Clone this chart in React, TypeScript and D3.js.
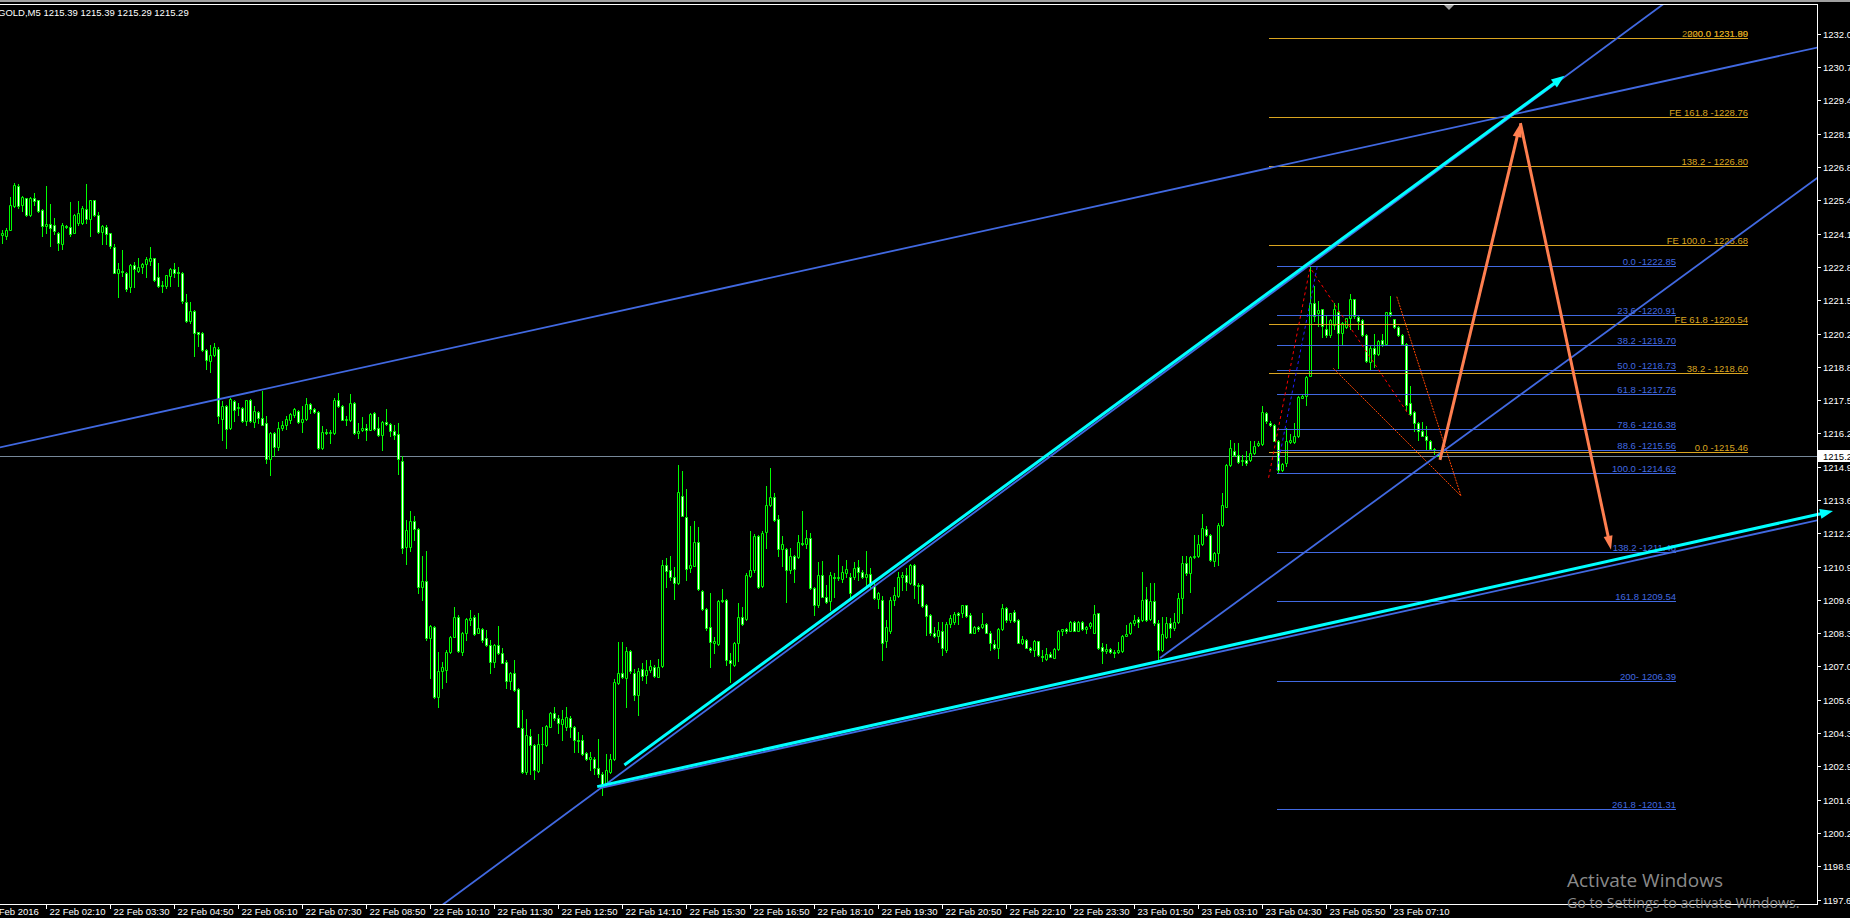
import React from 'react';
import * as d3 from 'd3';

// ---------- OHLC data (GOLD, M5) ----------
const barOpen = [
1224.07,1224.04,1224.28,1225.24,1226.01,1225.28,1225.53,1224.87,1225.53,1225.45,
1225.06,1224.44,1224.53,1224.49,1224.17,1223.71,1224.45,1224.41,1224.16,1224.57,
1224.56,1225.13,1224.73,1225.45,1224.89,1224.20,1224.41,1224.14,1223.62,1222.58,
1222.66,1222.58,1222.01,1222.87,1222.65,1222.82,1222.93,1223.06,1223.15,1222.41,
1222.05,1222.05,1222.45,1222.72,1222.61,1222.58,1221.43,1220.66,1221.07,1220.21,
1220.17,1219.52,1219.07,1219.30,1219.56,1216.78,1217.31,1216.41,1217.49,1217.20,
1217.23,1216.68,1217.54,1216.64,1217.07,1216.83,1216.62,1215.19,1216.22,1215.66,
1216.41,1216.52,1216.74,1216.94,1217.11,1216.64,1216.78,1217.37,1217.17,1217.05,
1215.62,1216.27,1216.22,1216.22,1217.54,1217.31,1216.72,1216.72,1217.41,1216.21,
1216.33,1216.42,1216.35,1217.02,1216.43,1216.14,1216.67,1216.59,1216.31,1216.19,
1215.12,1211.69,1211.71,1212.73,1212.40,1210.10,1210.34,1208.09,1208.53,1205.75,
1206.77,1206.81,1207.52,1208.13,1208.90,1207.54,1208.27,1208.78,1208.90,1208.29,
1208.43,1208.07,1207.80,1207.14,1207.80,1207.47,1207.13,1206.38,1206.68,1206.04,
1204.49,1202.76,1204.18,1203.82,1202.80,1203.89,1203.82,1204.55,1205.11,1204.89,
1204.65,1204.55,1204.89,1204.55,1204.05,1204.02,1203.52,1203.26,1203.29,1202.90,
1202.70,1202.30,1202.76,1203.27,1206.28,1206.71,1206.48,1207.56,1206.71,1205.81,
1206.83,1206.60,1206.81,1206.94,1206.54,1206.97,1210.96,1210.79,1210.52,1210.26,
1213.73,1212.88,1210.85,1210.94,1211.89,1209.95,1209.22,1208.50,1207.87,1207.84,
1209.59,1209.59,1207.21,1207.01,1207.87,1208.90,1208.82,1210.55,1210.76,1212.11,
1210.15,1212.27,1213.35,1213.68,1212.81,1211.61,1211.61,1210.79,1211.32,1211.29,
1211.87,1211.82,1212.07,1210.06,1209.39,1210.59,1209.72,1209.53,1210.50,1210.46,
1210.41,1210.65,1210.52,1210.52,1210.89,1210.69,1210.49,1210.63,1210.16,1209.62,
1209.59,1207.97,1208.37,1209.59,1209.76,1210.52,1210.59,1210.25,1210.98,1210.19,
1210.19,1209.39,1209.00,1208.27,1208.16,1208.37,1207.60,1208.64,1208.73,1209.06,
1209.06,1209.38,1209.00,1208.29,1208.53,1208.50,1208.64,1208.29,1207.84,1207.67,
1208.44,1209.26,1208.80,1209.13,1208.80,1207.90,1208.00,1207.70,1207.60,1207.96,
1207.36,1207.23,1207.43,1207.30,1207.64,1208.37,1208.43,1208.37,1208.73,1208.37,
1208.73,1208.44,1208.56,1208.29,1209.06,1207.74,1207.56,1207.63,1207.51,1207.54,
1207.56,1208.17,1208.27,1208.66,1208.82,1208.80,1209.62,1208.82,1209.55,1208.66,
1207.60,1208.11,1208.69,1208.47,1208.73,1209.66,1211.05,1210.68,1211.29,1211.32,
1211.82,1212.40,1212.18,1211.12,1211.45,1212.58,1213.30,1214.96,1215.52,1215.36,
1215.09,1215.16,1215.13,1215.43,1215.76,1215.78,1217.02,1216.62,1216.55,1215.92,
1214.76,1215.03,1215.85,1215.85,1216.09,1217.61,1217.68,1218.50,1221.39,1220.99,
1221.13,1220.33,1220.09,1220.49,1221.04,1220.20,1220.44,1220.80,1221.53,1220.84,
1220.69,1220.11,1219.03,1219.58,1219.36,1219.93,1219.74,1221.03,1220.73,1220.44,
1220.12,1219.76,1217.41,1217.04,1216.62,1216.29,1216.11,1215.89,1215.60,1215.39];

const barHigh = [
1224.27,1224.35,1225.57,1226.14,1226.10,1225.64,1225.55,1225.57,1225.74,1225.47,
1225.10,1226.01,1225.30,1224.77,1224.20,1224.57,1224.48,1225.37,1224.90,1225.42,
1225.24,1226.10,1225.47,1225.47,1225.01,1224.48,1224.47,1224.17,1223.74,1222.98,
1223.47,1222.62,1222.91,1223.02,1223.18,1222.98,1223.21,1223.59,1223.17,1222.96,
1222.25,1222.50,1222.78,1222.98,1222.80,1222.61,1221.72,1221.42,1221.10,1220.24,
1220.22,1219.56,1219.73,1219.80,1219.63,1217.48,1217.35,1217.60,1217.52,1217.41,
1217.25,1217.54,1217.57,1217.31,1217.09,1217.88,1216.88,1216.25,1216.25,1216.67,
1216.68,1216.88,1217.02,1217.23,1217.15,1217.28,1217.61,1217.41,1217.21,1217.08,
1216.49,1216.38,1216.35,1217.60,1217.81,1217.33,1216.88,1217.78,1217.44,1216.62,
1216.86,1216.59,1217.02,1217.04,1216.84,1216.70,1217.17,1216.62,1216.52,1216.62,
1215.32,1212.77,1213.13,1212.91,1212.44,1211.32,1211.52,1208.60,1208.56,1207.54,
1207.14,1207.60,1208.16,1209.33,1208.99,1208.33,1208.86,1209.19,1208.99,1209.06,
1208.47,1208.40,1208.00,1207.83,1208.56,1207.67,1207.21,1206.74,1207.21,1206.08,
1205.24,1204.85,1204.45,1203.86,1204.26,1204.55,1204.61,1205.15,1205.35,1205.02,
1205.22,1205.35,1204.98,1204.58,1204.34,1204.22,1203.56,1203.56,1203.36,1204.09,
1202.76,1203.49,1203.49,1206.44,1207.91,1207.94,1207.74,1207.60,1206.83,1206.90,
1207.07,1207.21,1207.21,1207.01,1207.25,1211.18,1211.25,1211.34,1210.89,1214.96,
1214.70,1214.00,1212.51,1212.71,1212.48,1209.99,1209.26,1209.86,1208.13,1209.59,
1210.03,1209.62,1207.47,1207.94,1209.46,1209.33,1210.65,1212.31,1212.21,1212.18,
1212.31,1214.10,1214.83,1213.84,1212.97,1212.11,1211.65,1211.65,1211.38,1212.18,
1213.13,1212.38,1212.24,1210.12,1211.08,1211.12,1210.19,1210.72,1210.65,1211.38,
1210.92,1211.18,1210.65,1211.08,1211.18,1210.79,1211.52,1210.85,1210.25,1209.92,
1209.73,1208.80,1209.72,1210.12,1210.72,1210.72,1210.85,1211.01,1211.02,1210.26,
1210.23,1209.43,1209.02,1208.53,1208.73,1208.73,1208.73,1208.98,1209.13,1209.13,
1209.41,1209.41,1209.06,1208.57,1208.57,1209.09,1208.66,1208.37,1208.00,1208.48,
1209.42,1209.33,1209.09,1209.21,1208.82,1208.16,1208.04,1207.74,1208.00,1207.97,
1207.60,1207.67,1207.54,1207.67,1208.40,1208.45,1208.47,1208.76,1208.76,1208.76,
1208.77,1208.56,1208.72,1209.38,1209.09,1207.87,1207.84,1207.67,1207.60,1207.93,
1208.20,1208.60,1208.73,1209.00,1208.93,1210.69,1210.12,1210.28,1210.28,1208.80,
1208.93,1208.90,1208.86,1209.06,1209.86,1211.32,1211.34,1211.32,1212.18,1212.18,
1213.00,1212.51,1212.22,1211.51,1212.64,1213.83,1215.00,1215.96,1215.82,1215.82,
1215.36,1215.49,1215.89,1215.89,1215.89,1217.28,1217.04,1216.69,1216.58,1215.96,
1215.03,1216.42,1216.16,1216.62,1217.68,1217.71,1218.50,1222.85,1222.06,1221.46,
1221.15,1220.89,1220.73,1221.39,1221.39,1220.62,1220.80,1221.72,1221.55,1220.89,
1220.73,1220.13,1219.67,1220.13,1219.93,1220.13,1221.03,1221.66,1220.76,1220.46,
1220.15,1219.80,1218.08,1217.08,1216.65,1216.65,1216.49,1215.93,1215.62,1215.39];

const barLow = [
1223.78,1223.91,1224.28,1225.20,1225.17,1225.04,1224.84,1224.84,1225.28,1225.01,
1224.04,1224.15,1223.64,1224.11,1223.49,1223.51,1224.37,1224.04,1224.15,1224.48,
1224.53,1224.57,1224.04,1224.84,1224.17,1223.71,1223.71,1223.58,1222.56,1221.61,
1222.45,1221.85,1221.81,1222.00,1222.62,1222.58,1222.40,1222.87,1222.25,1222.03,
1221.81,1221.99,1222.05,1222.43,1222.05,1221.39,1220.64,1220.59,1219.27,1219.67,
1219.47,1218.74,1218.63,1219.27,1216.62,1215.95,1215.62,1216.38,1216.68,1216.95,
1216.66,1216.55,1216.66,1216.46,1216.62,1216.54,1215.03,1214.55,1215.29,1215.53,
1216.33,1216.38,1216.62,1216.84,1216.62,1216.25,1216.75,1217.02,1217.02,1215.60,
1215.60,1216.19,1215.82,1216.19,1217.25,1216.72,1216.55,1216.70,1216.18,1216.02,
1216.29,1215.95,1216.33,1216.35,1216.10,1215.53,1216.54,1216.09,1215.98,1214.59,
1211.45,1211.03,1211.52,1211.98,1209.86,1209.59,1208.00,1206.48,1205.68,1205.35,
1206.08,1206.34,1207.47,1208.11,1207.54,1207.41,1208.00,1208.60,1208.20,1208.27,
1207.94,1207.76,1206.68,1206.94,1207.45,1207.07,1206.08,1206.04,1205.99,1204.53,
1202.72,1202.70,1202.70,1202.50,1202.76,1203.10,1203.78,1204.53,1204.82,1204.29,
1204.02,1204.42,1204.16,1203.56,1203.56,1203.43,1203.23,1202.83,1202.70,1202.56,
1201.83,1202.27,1202.72,1203.23,1206.25,1206.50,1205.35,1206.68,1205.62,1205.02,
1206.41,1206.30,1206.74,1206.54,1206.52,1206.91,1210.12,1210.39,1209.62,1210.23,
1212.91,1210.39,1210.72,1210.92,1209.99,1209.19,1208.40,1206.91,1207.47,1207.81,
1209.49,1207.01,1206.32,1206.97,1207.18,1208.60,1208.80,1210.52,1210.72,1210.08,
1210.12,1211.65,1213.31,1212.73,1211.32,1210.92,1209.49,1210.68,1210.32,1211.25,
1211.78,1211.65,1210.02,1208.99,1209.33,1209.70,1209.46,1209.19,1209.72,1210.39,
1210.32,1210.52,1209.66,1210.41,1210.39,1210.46,1210.12,1210.06,1209.62,1209.26,
1207.21,1207.74,1208.27,1209.39,1209.72,1209.99,1209.99,1210.23,1209.66,1209.46,
1209.33,1208.20,1208.20,1208.11,1207.93,1207.40,1207.54,1208.53,1208.64,1208.64,
1208.93,1208.93,1208.27,1208.27,1208.37,1208.46,1208.27,1207.60,1207.63,1207.30,
1208.40,1208.73,1208.73,1208.73,1207.87,1207.84,1207.67,1207.54,1207.38,1207.38,
1207.18,1207.21,1207.31,1207.27,1207.60,1208.20,1208.27,1208.35,1208.35,1208.35,
1208.40,1208.27,1208.46,1208.27,1207.66,1207.10,1207.47,1207.47,1207.34,1207.50,
1207.54,1208.16,1208.24,1208.60,1208.53,1208.77,1208.77,1208.80,1208.60,1207.23,
1207.58,1208.07,1208.13,1208.40,1208.69,1209.06,1210.59,1209.92,1211.25,1211.29,
1211.78,1212.11,1211.12,1210.92,1210.98,1212.54,1213.28,1214.90,1215.29,1215.03,
1214.96,1214.96,1215.09,1215.40,1215.69,1215.76,1216.62,1216.49,1215.89,1214.66,
1214.70,1214.92,1215.82,1215.82,1216.06,1217.59,1217.35,1218.48,1220.66,1220.46,
1220.04,1220.04,1220.04,1220.33,1218.81,1219.74,1220.40,1220.33,1220.80,1220.33,
1220.07,1219.03,1218.71,1218.85,1219.30,1219.67,1219.70,1220.86,1220.40,1220.07,
1219.70,1217.15,1216.95,1216.29,1215.96,1216.09,1215.60,1215.56,1215.40,1215.29];

const barClose = [
1224.15,1224.27,1225.26,1226.06,1225.24,1225.57,1224.87,1225.53,1225.44,1225.04,
1224.44,1224.53,1224.35,1224.24,1223.75,1224.49,1224.40,1224.12,1224.89,1224.94,
1225.17,1224.73,1225.45,1224.88,1224.20,1224.45,1224.12,1223.64,1222.58,1222.74,
1222.61,1221.95,1222.87,1222.74,1222.82,1222.94,1223.11,1223.15,1222.29,1222.05,
1222.09,1222.48,1222.72,1222.58,1222.57,1221.46,1220.66,1221.06,1220.20,1220.16,
1219.51,1219.11,1219.31,1219.64,1216.88,1217.31,1216.38,1217.57,1217.15,1217.27,
1216.68,1217.52,1216.68,1217.09,1216.82,1216.55,1215.19,1216.22,1215.66,1216.43,
1216.54,1216.76,1216.98,1217.17,1216.64,1216.78,1217.37,1217.17,1217.04,1215.62,
1216.25,1216.22,1216.27,1217.54,1217.28,1216.75,1216.78,1217.41,1216.21,1216.31,
1216.42,1216.35,1216.99,1216.38,1216.14,1216.67,1216.58,1216.31,1216.14,1215.19,
1211.65,1212.38,1212.73,1212.40,1210.12,1210.35,1208.07,1208.56,1205.75,1206.77,
1206.91,1207.52,1208.12,1208.90,1207.56,1208.29,1208.82,1208.89,1208.24,1208.47,
1208.00,1207.79,1207.14,1207.80,1207.47,1207.10,1206.38,1206.68,1206.01,1204.55,
1202.76,1204.22,1203.82,1202.83,1203.89,1203.86,1204.58,1205.11,1204.89,1204.69,
1204.85,1204.93,1204.55,1204.02,1203.98,1203.49,1203.26,1203.36,1202.90,1202.70,
1202.23,1202.83,1203.29,1206.34,1206.71,1206.52,1207.56,1206.77,1205.81,1206.77,
1206.57,1206.81,1206.97,1206.57,1206.94,1210.96,1210.75,1210.49,1210.26,1213.87,
1212.93,1210.81,1210.98,1211.89,1210.02,1209.22,1208.47,1207.94,1207.96,1209.55,
1209.53,1207.21,1207.10,1207.87,1208.90,1208.64,1210.59,1210.76,1212.11,1210.11,
1212.24,1213.36,1213.68,1212.77,1211.61,1211.81,1210.79,1211.32,1210.81,1211.89,
1211.82,1212.07,1210.06,1209.39,1210.59,1209.72,1209.49,1210.59,1210.46,1210.52,
1210.72,1210.81,1209.86,1210.85,1210.69,1210.49,1210.63,1210.19,1209.66,1209.86,
1207.87,1208.53,1209.59,1209.79,1210.52,1210.59,1210.32,1210.98,1210.19,1210.16,
1209.37,1208.97,1208.27,1208.16,1208.40,1207.70,1208.64,1208.86,1209.02,1209.00,
1209.38,1208.97,1208.29,1208.50,1208.44,1208.64,1208.29,1207.90,1207.67,1208.44,
1209.26,1208.80,1209.06,1208.77,1207.90,1208.03,1207.70,1207.60,1207.96,1207.40,
1207.31,1207.43,1207.34,1207.63,1208.37,1208.43,1208.37,1208.73,1208.37,1208.73,
1208.44,1208.53,1208.66,1209.02,1207.70,1207.56,1207.63,1207.51,1207.47,1207.60,
1208.17,1208.24,1208.66,1208.80,1208.73,1209.59,1208.80,1209.55,1208.66,1207.60,
1208.24,1208.69,1208.47,1208.73,1209.66,1211.05,1210.65,1211.28,1211.34,1211.82,
1212.44,1212.18,1211.16,1211.47,1212.58,1213.37,1214.96,1215.62,1215.33,1215.05,
1215.13,1215.03,1215.43,1215.72,1215.82,1217.06,1216.69,1216.53,1215.89,1214.76,
1214.99,1215.92,1215.96,1216.11,1217.64,1217.68,1218.43,1221.39,1220.86,1221.09,
1220.46,1220.09,1220.69,1221.13,1220.20,1220.60,1220.77,1221.53,1220.86,1220.66,
1220.11,1219.07,1219.58,1219.36,1219.89,1219.74,1221.02,1220.93,1220.44,1220.09,
1219.74,1217.35,1216.99,1216.62,1216.29,1216.11,1215.96,1215.60,1215.53,1215.29];

// ---------- axes ----------
const timeLabels = ['22 Feb 2016','22 Feb 02:10','22 Feb 03:30','22 Feb 04:50','22 Feb 06:10','22 Feb 07:30',
  '22 Feb 08:50','22 Feb 10:10','22 Feb 11:30','22 Feb 12:50','22 Feb 14:10','22 Feb 15:30','22 Feb 16:50',
  '22 Feb 18:10','22 Feb 19:30','22 Feb 20:50','22 Feb 22:10','22 Feb 23:30','23 Feb 01:50','23 Feb 03:10',
  '23 Feb 04:30','23 Feb 05:50','23 Feb 07:10'];
const timeLabelBars = [-5,11,27,43,59,75,91,107,123,139,155,171,187,203,219,235,251,267,283,299,315,331,347];

const priceTickValues = [1232.06,1230.74,1229.42,1228.09,1226.77,1225.45,1224.13,1222.81,1221.49,1220.16,
  1218.84,1217.52,1216.20,1214.88,1213.55,1212.23,1210.91,1209.59,1208.27,1206.95,1205.62,1204.30,1202.98,
  1201.66,1200.33,1199.01,1197.69];
const priceTickLabels = ['1232.0','1230.7','1229.4','1228.1','1226.8','1225.4','1224.1','1222.8','1221.5','1220.2',
  '1218.8','1217.5','1216.2','1214.9','1213.6','1212.2','1210.9','1209.6','1208.3','1207.0','1205.6','1204.3',
  '1202.9','1201.6','1200.2','1198.9','1197.6'];

const headerText = 'GOLD,M5  1215.39 1215.39 1215.29 1215.29';
const lastPrice = 1215.29;
const lastPriceLabel = '1215.2';

// ---------- Fibonacci retracement (blue) ----------
const fibRetBars = [318.75, 418.5];
const fibRetPrices = [1222.85,1220.91,1219.70,1218.73,1217.76,1216.38,1215.56,1214.62,1211.48,1209.54,1206.39,1201.31];
const fibRetLabels = ['0.0 -1222.85','23.6 -1220.91','38.2 -1219.70','50.0 -1218.73','61.8 -1217.76','78.6 -1216.38',
  '88.6 -1215.56','100.0 -1214.62','138.2  -1211.48','161.8 1209.54','200- 1206.39','261.8 -1201.31'];

// ---------- Fibonacci expansion (goldenrod) ----------
const fibExpBars = [316.75, 436.5];
const fibExpPrices = [1215.46,1218.60,1220.54,1223.68,1226.80,1228.76,1231.89];
const fibExpLabels = ['0.0 -1215.46','38.2 - 1218.60','FE 61.8 -1220.54','FE 100.0 - 1223.68','138.2 - 1226.80',
  'FE 161.8 -1228.76','200.0 1231.89'];
const fibExpOverlapLabel = '2020.0 1231.90';

// ---------- trend lines: [bar, price] pairs ----------
const upperChannel = [[-0.5, 1215.65], [453.75, 1231.52]];
const lowerChannel = [[149.5, 1202.12], [453.75, 1212.75]];
const steepLineA = [[149.5, 1202.10], [410, 1232.62]];
const steepLineB = [[289.5, 1207.29], [453.75, 1226.34]];
const cyanUpper = [[155.6, 1203.04], [390.6, 1230.40]];
const cyanLower = [[148.8, 1202.18], [457.75, 1213.12]];
const orangeUp = [[359.5, 1215.15], [379.6, 1228.52]];
const orangeDown = [[379.6, 1228.52], [402.25, 1211.58]];
const redDash1 = [[316.65, 1214.44], [327, 1222.77]];
const redDash2 = [[327.4, 1222.69], [351.75, 1216.93]];
const blueDash = [[318.7, 1214.75], [328.8, 1222.82]];
const wedge1 = [[332.8, 1218.79], [364.75, 1213.72]];
const wedge2 = [[348.7, 1221.63], [364.75, 1213.72]];

const FONT = "'Liberation Sans', Arial, sans-serif";
const FS = 9.5;

export default function App() {
  const W = 1850, H = 918;
  const L = 0, R = 1817, T = 4, B = 904;
  const x = d3.scaleLinear().domain([0, 359]).range([2, 1438]);
  const y = d3.scaleLinear().domain([1197.52, 1233.25]).range([B, T]);

  const P = (pt: number[]): [number, number] => [x(pt[0]), y(pt[1])];
  const line = d3.line();
  const seg = (pts: number[][]) => line([P(pts[0]), P(pts[1])]) as string;
  const extend = (pts: number[][], left: boolean, right: boolean) => {
    const [x1, y1] = P(pts[0]);
    const [x2, y2] = P(pts[1]);
    const m = (y2 - y1) / (x2 - x1);
    const xa = left ? -10 : x1;
    const xb = right ? R + 10 : x2;
    return line([[xa, y1 + m * (xa - x1)], [xb, y1 + m * (xb - x1)]]) as string;
  };
  const head = (pts: number[][], len: number, half: number) => {
    const [x1, y1] = P(pts[0]);
    const [x2, y2] = P(pts[1]);
    const d = Math.hypot(x2 - x1, y2 - y1);
    const ux = (x2 - x1) / d, uy = (y2 - y1) / d;
    const bx = x2 - ux * len, by = y2 - uy * len;
    return `${x2},${y2} ${bx - uy * half},${by + ux * half} ${bx + uy * half},${by - ux * half}`;
  };
  const shaft = (pts: number[][], len: number) => {
    const [x1, y1] = P(pts[0]);
    const [x2, y2] = P(pts[1]);
    const d = Math.hypot(x2 - x1, y2 - y1);
    const ux = (x2 - x1) / d, uy = (y2 - y1) / d;
    return line([[x1, y1], [x2 - ux * len * 0.7, y2 - uy * len * 0.7]]) as string;
  };

  const candles = barOpen.map((o, i) => {
    const c = barClose[i];
    const hi = Math.max(barHigh[i], o, c);
    const lo = Math.min(barLow[i], o, c);
    const cx = Math.round(x(i));
    const top = Math.round(y(Math.max(o, c))) + 0.5;
    const bot = Math.round(y(Math.min(o, c))) + 0.5;
    const bear = c < o;
    return (
      <g key={i}>
        <line x1={cx + 0.5} x2={cx + 0.5} y1={Math.round(y(hi))} y2={Math.round(y(lo)) + 1} stroke="#00FF00" strokeWidth={1} />
        <path d={`M${cx - 0.5},${top}H${cx + 1.5}V${bot}H${cx - 0.5}Z`} fill={bear ? '#FFFFFF' : '#000000'} stroke="#00FF00" strokeWidth={1} />
      </g>
    );
  });

  const priceY = Math.round(y(lastPrice)) + 0.5;
  const blue = '#4169E1';
  const gold = '#DAA520';

  return (
    <svg width={W} height={H} style={{ position: 'absolute', left: 0, top: 0, background: '#000', display: 'block' }}
      fontFamily={FONT} fontSize={FS}>
      <defs>
        <clipPath id="plot"><rect x={L} y={T} width={R - L} height={B - T} /></clipPath>
      </defs>
      <rect x={0} y={0} width={W} height={H} fill="#000" />
      <rect x={0} y={0} width={W} height={2} fill="#a0a0a0" />

      <g clipPath="url(#plot)">
        <line x1={L} x2={R} y1={priceY} y2={priceY} stroke="#778899" strokeWidth={1} />
        {candles}

        {fibRetPrices.map((p, k) => {
          const yy = Math.round(y(p)) + 0.5;
          return (
            <g key={'fr' + k}>
              <line x1={x(fibRetBars[0])} x2={x(fibRetBars[1])} y1={yy} y2={yy} stroke={blue} strokeWidth={1} />
              <text x={x(fibRetBars[1])} y={yy - 2} textAnchor="end" fill={blue}>{fibRetLabels[k]}</text>
            </g>
          );
        })}
        {fibExpPrices.map((p, k) => {
          const yy = Math.round(y(p)) + 0.5;
          return (
            <g key={'fe' + k}>
              <line x1={x(fibExpBars[0])} x2={x(fibExpBars[1])} y1={yy} y2={yy} stroke={gold} strokeWidth={1} />
              <text x={x(fibExpBars[1])} y={yy - 2} textAnchor="end" fill={gold}>{fibExpLabels[k]}</text>
            </g>
          );
        })}
        <text x={x(fibExpBars[1])} y={Math.round(y(fibExpPrices[6])) - 1.5} textAnchor="end" fill={gold} opacity={0.85}>{fibExpOverlapLabel}</text>

        <path d={seg(redDash1)} stroke="#FF0000" strokeWidth={1} strokeDasharray="3,3" fill="none" />
        <path d={seg(redDash2)} stroke="#FF0000" strokeWidth={1} strokeDasharray="3,3" fill="none" />
        <path d={seg(blueDash)} stroke="#1E1EFF" strokeWidth={1} strokeDasharray="3,3" fill="none" />
        <path d={seg(wedge1)} stroke="#FF4500" strokeWidth={1} strokeDasharray="2,1" fill="none" />
        <path d={seg(wedge2)} stroke="#FF4500" strokeWidth={1} strokeDasharray="2,1" fill="none" />

        <path d={extend(upperChannel, true, true)} stroke={blue} strokeWidth={1.8} fill="none" />
        <path d={extend(lowerChannel, false, true)} stroke={blue} strokeWidth={1.8} fill="none" />
        <path d={extend(steepLineA, true, true)} stroke={blue} strokeWidth={1.8} fill="none" />
        <path d={extend(steepLineB, false, true)} stroke={blue} strokeWidth={1.8} fill="none" />

        <path d={shaft(cyanUpper, 13)} stroke="#00FFFF" strokeWidth={3} fill="none" />
        <polygon points={head(cyanUpper, 13, 5)} fill="#00FFFF" />

        <path d={shaft(orangeUp, 14)} stroke="#FF7F50" strokeWidth={3} fill="none" />
        <polygon points={head(orangeUp, 14, 4.5)} fill="#FF7F50" />
        <path d={shaft(orangeDown, 14)} stroke="#FF7F50" strokeWidth={3} fill="none" />
        <polygon points={head(orangeDown, 14, 4.5)} fill="#FF7F50" />
      </g>

      <path d={shaft(cyanLower, 13)} stroke="#00FFFF" strokeWidth={3} fill="none" />
      <polygon points={head(cyanLower, 13, 5)} fill="#00FFFF" />

      <line x1={L} x2={R} y1={T + 0.5} y2={T + 0.5} stroke="#fff" strokeWidth={1} />
      <line x1={R + 0.5} x2={R + 0.5} y1={T} y2={B + 1} stroke="#fff" strokeWidth={1} />
      <line x1={L} x2={R} y1={B + 0.5} y2={B + 0.5} stroke="#fff" strokeWidth={1} />
      <polygon points="1444,5 1454,5 1449,10" fill="#a0a0a0" />

      <text x={-2} y={16} fill="#fff">{headerText}</text>

      {priceTickValues.map((v, k) => {
        const yy = Math.round(y(v)) + 0.5;
        return (
          <g key={'pt' + k}>
            <line x1={R} x2={R + 4} y1={yy} y2={yy} stroke="#fff" strokeWidth={1} />
            <text x={R + 6} y={yy} dy="0.35em" fill="#fff">{priceTickLabels[k]}</text>
          </g>
        );
      })}
      <rect x={R + 1} y={priceY - 6.5} width={W - R - 1} height={12} fill="#fff" />
      <text x={R + 6} y={priceY} dy="0.35em" fill="#000">{lastPriceLabel}</text>

      {timeLabelBars.map((b, k) => {
        const xx = Math.round(x(b)) + 0.5;
        return (
          <g key={'tt' + k}>
            <line x1={xx} x2={xx} y1={B} y2={B + 5} stroke="#fff" strokeWidth={1} />
            <text x={xx + 3} y={915} fill="#fff">{timeLabels[k]}</text>
          </g>
        );
      })}

      <text x={1567} y={887} fill="#8a8a8a" fontSize={19} fontFamily="'Open Sans', 'Noto Sans', sans-serif">Activate Windows</text>
      <text x={1567} y={908} fill="#8a8a8a" fontSize={14.2} fontFamily="'Open Sans', 'Noto Sans', sans-serif">Go to Settings to activate Windows.</text>
    </svg>
  );
}
